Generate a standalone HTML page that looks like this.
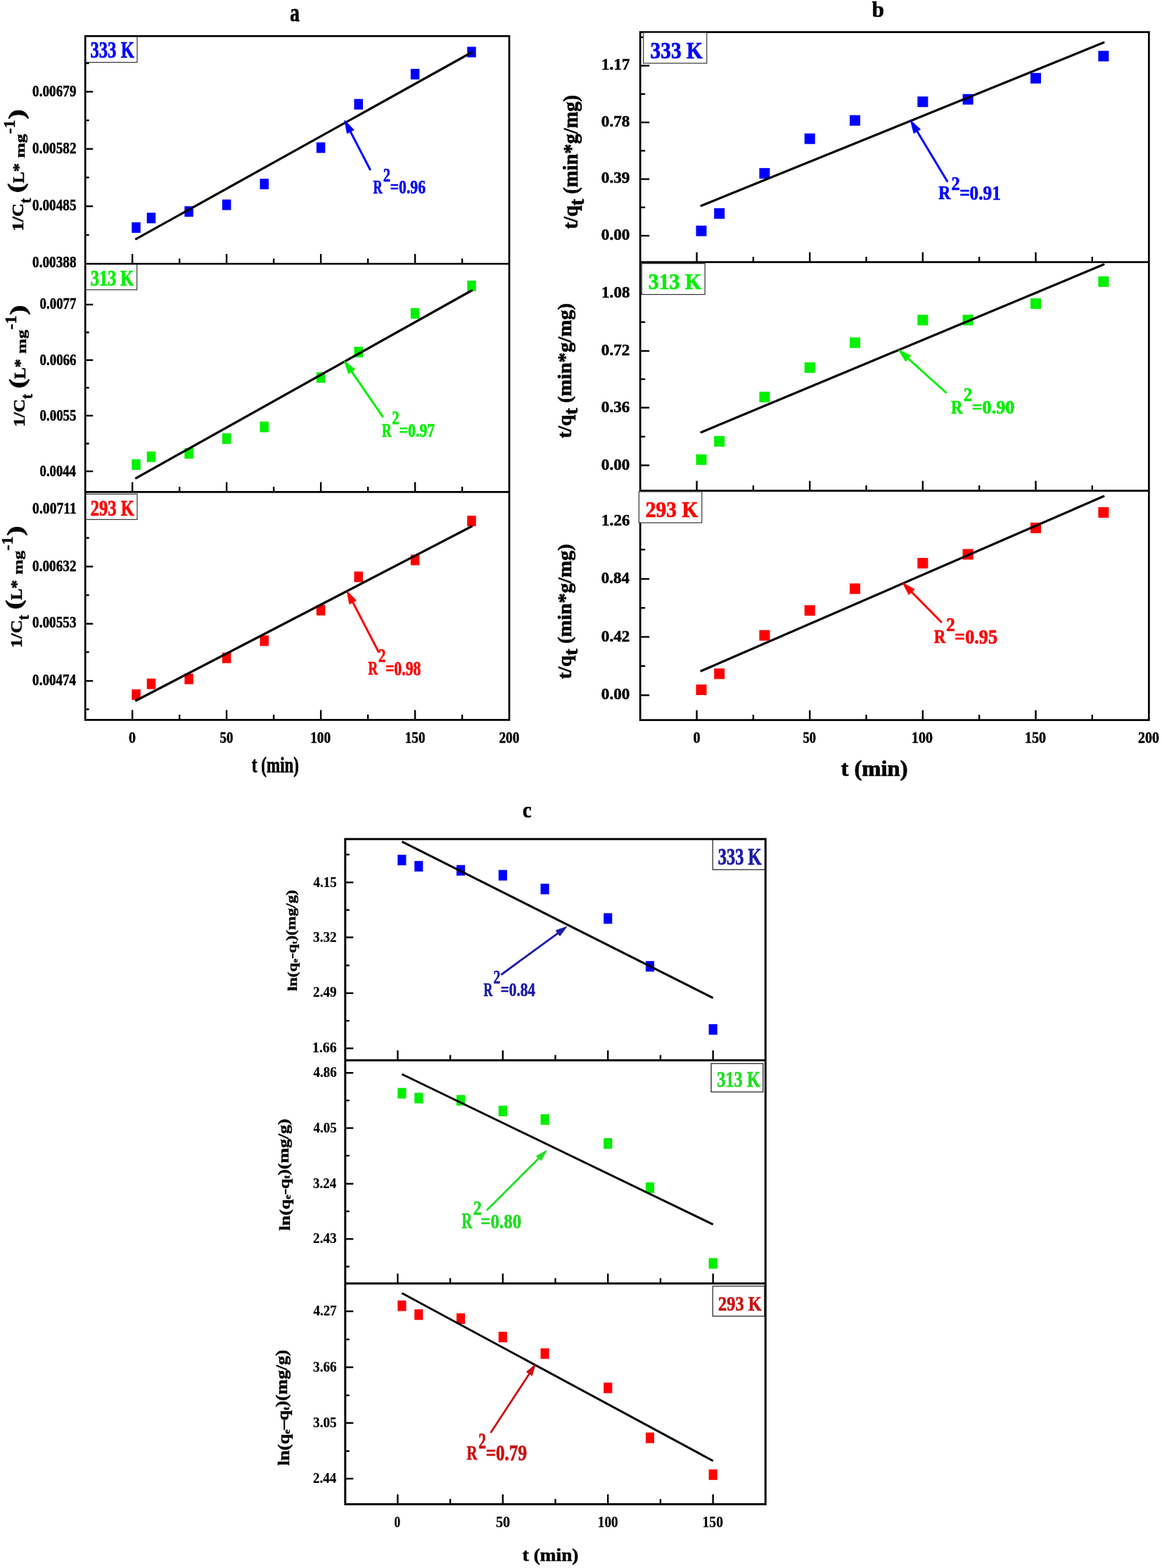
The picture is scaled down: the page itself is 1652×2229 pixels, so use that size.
<!DOCTYPE html><html><head><meta charset="utf-8"><title>Kinetic model plots</title><style>html,body{margin:0;padding:0;background:#fff;overflow:hidden}svg{display:block}</style></head><body><svg width="1652" height="2229" viewBox="0 0 1652 2229"><defs><filter id="soft" x="0" y="0" width="1652" height="2229" filterUnits="userSpaceOnUse"><feGaussianBlur stdDeviation="0.5"/></filter></defs><rect width="1652" height="2229" fill="#fff"/><g><line x1="188.20" y1="375.00" x2="188.20" y2="361.00" stroke="#000" stroke-width="2.4" stroke-linecap="butt"/>
<line x1="322.16" y1="375.00" x2="322.16" y2="361.00" stroke="#000" stroke-width="2.4" stroke-linecap="butt"/>
<line x1="456.13" y1="375.00" x2="456.13" y2="361.00" stroke="#000" stroke-width="2.4" stroke-linecap="butt"/>
<line x1="590.10" y1="375.00" x2="590.10" y2="361.00" stroke="#000" stroke-width="2.4" stroke-linecap="butt"/>
<line x1="255.18" y1="375.00" x2="255.18" y2="367.50" stroke="#000" stroke-width="2.4" stroke-linecap="butt"/>
<line x1="389.15" y1="375.00" x2="389.15" y2="367.50" stroke="#000" stroke-width="2.4" stroke-linecap="butt"/>
<line x1="523.11" y1="375.00" x2="523.11" y2="367.50" stroke="#000" stroke-width="2.4" stroke-linecap="butt"/>
<line x1="657.08" y1="375.00" x2="657.08" y2="367.50" stroke="#000" stroke-width="2.4" stroke-linecap="butt"/>
<line x1="121.20" y1="130.40" x2="132.20" y2="130.40" stroke="#000" stroke-width="2.4" stroke-linecap="butt"/>
<line x1="121.20" y1="211.70" x2="132.20" y2="211.70" stroke="#000" stroke-width="2.4" stroke-linecap="butt"/>
<line x1="121.20" y1="293.20" x2="132.20" y2="293.20" stroke="#000" stroke-width="2.4" stroke-linecap="butt"/>
<line x1="121.20" y1="89.90" x2="126.70" y2="89.90" stroke="#000" stroke-width="2.4" stroke-linecap="butt"/>
<line x1="121.20" y1="171.10" x2="126.70" y2="171.10" stroke="#000" stroke-width="2.4" stroke-linecap="butt"/>
<line x1="121.20" y1="252.30" x2="126.70" y2="252.30" stroke="#000" stroke-width="2.4" stroke-linecap="butt"/>
<line x1="121.20" y1="334.00" x2="126.70" y2="334.00" stroke="#000" stroke-width="2.4" stroke-linecap="butt"/>
<rect x="187.31" y="316.00" width="12.50" height="15.00" fill="#0000ff"/>
<rect x="208.74" y="302.40" width="12.50" height="15.00" fill="#0000ff"/>
<rect x="262.33" y="293.20" width="12.50" height="15.00" fill="#0000ff"/>
<rect x="315.91" y="283.60" width="12.50" height="15.00" fill="#0000ff"/>
<rect x="369.50" y="254.10" width="12.50" height="15.00" fill="#0000ff"/>
<rect x="449.88" y="202.40" width="12.50" height="15.00" fill="#0000ff"/>
<rect x="503.47" y="140.70" width="12.50" height="15.00" fill="#0000ff"/>
<rect x="583.85" y="97.90" width="12.50" height="15.00" fill="#0000ff"/>
<rect x="664.22" y="66.50" width="12.50" height="15.00" fill="#0000ff"/>
<line x1="193.60" y1="339.70" x2="670.50" y2="74.50" stroke="#000" stroke-width="3.25" stroke-linecap="round"/>
<line x1="526.00" y1="240.80" x2="497.28" y2="185.26" stroke="#0000ff" stroke-width="3.0" stroke-linecap="round"/>
<polygon points="490.07,171.31 502.86,184.62 493.53,189.44" fill="#0000ff" stroke="#0000ff" stroke-width="1.2" stroke-linejoin="round"/>
<rect x="121.10" y="51.30" width="73.90" height="37.30" fill="#fff" stroke="#333" stroke-width="1.2"/>
<line x1="188.20" y1="699.40" x2="188.20" y2="685.40" stroke="#000" stroke-width="2.4" stroke-linecap="butt"/>
<line x1="322.16" y1="699.40" x2="322.16" y2="685.40" stroke="#000" stroke-width="2.4" stroke-linecap="butt"/>
<line x1="456.13" y1="699.40" x2="456.13" y2="685.40" stroke="#000" stroke-width="2.4" stroke-linecap="butt"/>
<line x1="590.10" y1="699.40" x2="590.10" y2="685.40" stroke="#000" stroke-width="2.4" stroke-linecap="butt"/>
<line x1="255.18" y1="699.40" x2="255.18" y2="691.90" stroke="#000" stroke-width="2.4" stroke-linecap="butt"/>
<line x1="389.15" y1="699.40" x2="389.15" y2="691.90" stroke="#000" stroke-width="2.4" stroke-linecap="butt"/>
<line x1="523.11" y1="699.40" x2="523.11" y2="691.90" stroke="#000" stroke-width="2.4" stroke-linecap="butt"/>
<line x1="657.08" y1="699.40" x2="657.08" y2="691.90" stroke="#000" stroke-width="2.4" stroke-linecap="butt"/>
<line x1="121.20" y1="433.00" x2="132.20" y2="433.00" stroke="#000" stroke-width="2.4" stroke-linecap="butt"/>
<line x1="121.20" y1="511.90" x2="132.20" y2="511.90" stroke="#000" stroke-width="2.4" stroke-linecap="butt"/>
<line x1="121.20" y1="590.90" x2="132.20" y2="590.90" stroke="#000" stroke-width="2.4" stroke-linecap="butt"/>
<line x1="121.20" y1="670.00" x2="132.20" y2="670.00" stroke="#000" stroke-width="2.4" stroke-linecap="butt"/>
<line x1="121.20" y1="394.00" x2="126.70" y2="394.00" stroke="#000" stroke-width="2.4" stroke-linecap="butt"/>
<line x1="121.20" y1="472.50" x2="126.70" y2="472.50" stroke="#000" stroke-width="2.4" stroke-linecap="butt"/>
<line x1="121.20" y1="551.20" x2="126.70" y2="551.20" stroke="#000" stroke-width="2.4" stroke-linecap="butt"/>
<line x1="121.20" y1="630.60" x2="126.70" y2="630.60" stroke="#000" stroke-width="2.4" stroke-linecap="butt"/>
<rect x="187.31" y="652.90" width="12.50" height="15.00" fill="#00f000"/>
<rect x="208.74" y="641.80" width="12.50" height="15.00" fill="#00f000"/>
<rect x="262.33" y="637.00" width="12.50" height="15.00" fill="#00f000"/>
<rect x="315.91" y="616.00" width="12.50" height="15.00" fill="#00f000"/>
<rect x="369.50" y="599.40" width="12.50" height="15.00" fill="#00f000"/>
<rect x="449.88" y="529.20" width="12.50" height="15.00" fill="#00f000"/>
<rect x="503.47" y="493.00" width="12.50" height="15.00" fill="#00f000"/>
<rect x="583.85" y="438.00" width="12.50" height="15.00" fill="#00f000"/>
<rect x="664.22" y="398.90" width="12.50" height="15.00" fill="#00f000"/>
<line x1="193.60" y1="679.60" x2="670.50" y2="413.00" stroke="#000" stroke-width="3.25" stroke-linecap="round"/>
<line x1="544.00" y1="592.10" x2="498.66" y2="526.29" stroke="#00f000" stroke-width="3.0" stroke-linecap="round"/>
<polygon points="489.75,513.36 504.12,524.96 495.47,530.91" fill="#00f000" stroke="#00f000" stroke-width="1.2" stroke-linejoin="round"/>
<rect x="121.10" y="375.00" width="73.60" height="36.90" fill="#fff" stroke="#333" stroke-width="1.2"/>
<line x1="188.20" y1="1023.40" x2="188.20" y2="1009.40" stroke="#000" stroke-width="2.4" stroke-linecap="butt"/>
<line x1="322.16" y1="1023.40" x2="322.16" y2="1009.40" stroke="#000" stroke-width="2.4" stroke-linecap="butt"/>
<line x1="456.13" y1="1023.40" x2="456.13" y2="1009.40" stroke="#000" stroke-width="2.4" stroke-linecap="butt"/>
<line x1="590.10" y1="1023.40" x2="590.10" y2="1009.40" stroke="#000" stroke-width="2.4" stroke-linecap="butt"/>
<line x1="255.18" y1="1023.40" x2="255.18" y2="1015.90" stroke="#000" stroke-width="2.4" stroke-linecap="butt"/>
<line x1="389.15" y1="1023.40" x2="389.15" y2="1015.90" stroke="#000" stroke-width="2.4" stroke-linecap="butt"/>
<line x1="523.11" y1="1023.40" x2="523.11" y2="1015.90" stroke="#000" stroke-width="2.4" stroke-linecap="butt"/>
<line x1="657.08" y1="1023.40" x2="657.08" y2="1015.90" stroke="#000" stroke-width="2.4" stroke-linecap="butt"/>
<line x1="121.20" y1="724.00" x2="132.20" y2="724.00" stroke="#000" stroke-width="2.4" stroke-linecap="butt"/>
<line x1="121.20" y1="805.40" x2="132.20" y2="805.40" stroke="#000" stroke-width="2.4" stroke-linecap="butt"/>
<line x1="121.20" y1="886.70" x2="132.20" y2="886.70" stroke="#000" stroke-width="2.4" stroke-linecap="butt"/>
<line x1="121.20" y1="968.00" x2="132.20" y2="968.00" stroke="#000" stroke-width="2.4" stroke-linecap="butt"/>
<line x1="121.20" y1="764.70" x2="126.70" y2="764.70" stroke="#000" stroke-width="2.4" stroke-linecap="butt"/>
<line x1="121.20" y1="846.00" x2="126.70" y2="846.00" stroke="#000" stroke-width="2.4" stroke-linecap="butt"/>
<line x1="121.20" y1="927.00" x2="126.70" y2="927.00" stroke="#000" stroke-width="2.4" stroke-linecap="butt"/>
<line x1="121.20" y1="1008.30" x2="126.70" y2="1008.30" stroke="#000" stroke-width="2.4" stroke-linecap="butt"/>
<rect x="187.31" y="980.00" width="12.50" height="15.00" fill="#ff0000"/>
<rect x="208.74" y="964.60" width="12.50" height="15.00" fill="#ff0000"/>
<rect x="262.33" y="957.60" width="12.50" height="15.00" fill="#ff0000"/>
<rect x="315.91" y="927.70" width="12.50" height="15.00" fill="#ff0000"/>
<rect x="369.50" y="903.30" width="12.50" height="15.00" fill="#ff0000"/>
<rect x="449.88" y="859.80" width="12.50" height="15.00" fill="#ff0000"/>
<rect x="503.47" y="812.50" width="12.50" height="15.00" fill="#ff0000"/>
<rect x="583.85" y="788.50" width="12.50" height="15.00" fill="#ff0000"/>
<rect x="664.22" y="733.10" width="12.50" height="15.00" fill="#ff0000"/>
<line x1="193.60" y1="995.80" x2="670.50" y2="748.30" stroke="#000" stroke-width="3.25" stroke-linecap="round"/>
<line x1="538.00" y1="926.30" x2="500.60" y2="854.24" stroke="#ff0000" stroke-width="3.0" stroke-linecap="round"/>
<polygon points="493.37,840.31 506.18,853.60 496.86,858.44" fill="#ff0000" stroke="#ff0000" stroke-width="1.2" stroke-linejoin="round"/>
<rect x="121.10" y="702.40" width="73.90" height="36.10" fill="#fff" stroke="#333" stroke-width="1.2"/>
<rect x="910.20" y="45.60" width="723.20" height="978.00" fill="none" stroke="#000" stroke-width="2.7"/>
<line x1="910.20" y1="372.60" x2="1633.40" y2="372.60" stroke="#000" stroke-width="2.7" stroke-linecap="butt"/>
<line x1="910.20" y1="697.60" x2="1633.40" y2="697.60" stroke="#000" stroke-width="2.7" stroke-linecap="butt"/>
<line x1="990.60" y1="372.60" x2="990.60" y2="358.60" stroke="#000" stroke-width="2.4" stroke-linecap="butt"/>
<line x1="1151.24" y1="372.60" x2="1151.24" y2="358.60" stroke="#000" stroke-width="2.4" stroke-linecap="butt"/>
<line x1="1311.87" y1="372.60" x2="1311.87" y2="358.60" stroke="#000" stroke-width="2.4" stroke-linecap="butt"/>
<line x1="1472.51" y1="372.60" x2="1472.51" y2="358.60" stroke="#000" stroke-width="2.4" stroke-linecap="butt"/>
<line x1="1070.92" y1="372.60" x2="1070.92" y2="365.10" stroke="#000" stroke-width="2.4" stroke-linecap="butt"/>
<line x1="1231.55" y1="372.60" x2="1231.55" y2="365.10" stroke="#000" stroke-width="2.4" stroke-linecap="butt"/>
<line x1="1392.19" y1="372.60" x2="1392.19" y2="365.10" stroke="#000" stroke-width="2.4" stroke-linecap="butt"/>
<line x1="1552.82" y1="372.60" x2="1552.82" y2="365.10" stroke="#000" stroke-width="2.4" stroke-linecap="butt"/>
<line x1="910.20" y1="93.40" x2="923.20" y2="93.40" stroke="#000" stroke-width="2.4" stroke-linecap="butt"/>
<line x1="910.20" y1="174.00" x2="923.20" y2="174.00" stroke="#000" stroke-width="2.4" stroke-linecap="butt"/>
<line x1="910.20" y1="254.60" x2="923.20" y2="254.60" stroke="#000" stroke-width="2.4" stroke-linecap="butt"/>
<line x1="910.20" y1="335.10" x2="923.20" y2="335.10" stroke="#000" stroke-width="2.4" stroke-linecap="butt"/>
<line x1="910.20" y1="52.90" x2="917.20" y2="52.90" stroke="#000" stroke-width="2.4" stroke-linecap="butt"/>
<line x1="910.20" y1="133.70" x2="917.20" y2="133.70" stroke="#000" stroke-width="2.4" stroke-linecap="butt"/>
<line x1="910.20" y1="214.30" x2="917.20" y2="214.30" stroke="#000" stroke-width="2.4" stroke-linecap="butt"/>
<line x1="910.20" y1="294.80" x2="917.20" y2="294.80" stroke="#000" stroke-width="2.4" stroke-linecap="butt"/>
<rect x="989.53" y="320.70" width="15.00" height="15.00" fill="#0000ff"/>
<rect x="1015.23" y="296.00" width="15.00" height="15.00" fill="#0000ff"/>
<rect x="1079.48" y="238.90" width="15.00" height="15.00" fill="#0000ff"/>
<rect x="1143.74" y="189.70" width="15.00" height="15.00" fill="#0000ff"/>
<rect x="1207.99" y="163.70" width="15.00" height="15.00" fill="#0000ff"/>
<rect x="1304.37" y="137.20" width="15.00" height="15.00" fill="#0000ff"/>
<rect x="1368.62" y="133.70" width="15.00" height="15.00" fill="#0000ff"/>
<rect x="1465.01" y="103.70" width="15.00" height="15.00" fill="#0000ff"/>
<rect x="1561.39" y="72.30" width="15.00" height="15.00" fill="#0000ff"/>
<line x1="997.00" y1="292.40" x2="1568.90" y2="60.50" stroke="#000" stroke-width="3.25" stroke-linecap="round"/>
<line x1="1346.60" y1="257.60" x2="1302.72" y2="184.83" stroke="#0000ff" stroke-width="3.0" stroke-linecap="round"/>
<polygon points="1294.61,171.39 1308.25,183.83 1299.26,189.25" fill="#0000ff" stroke="#0000ff" stroke-width="1.2" stroke-linejoin="round"/>
<rect x="914.70" y="46.30" width="90.10" height="43.60" fill="#fff" stroke="#333" stroke-width="1.2"/>
<line x1="990.60" y1="697.60" x2="990.60" y2="683.60" stroke="#000" stroke-width="2.4" stroke-linecap="butt"/>
<line x1="1151.24" y1="697.60" x2="1151.24" y2="683.60" stroke="#000" stroke-width="2.4" stroke-linecap="butt"/>
<line x1="1311.87" y1="697.60" x2="1311.87" y2="683.60" stroke="#000" stroke-width="2.4" stroke-linecap="butt"/>
<line x1="1472.51" y1="697.60" x2="1472.51" y2="683.60" stroke="#000" stroke-width="2.4" stroke-linecap="butt"/>
<line x1="1070.92" y1="697.60" x2="1070.92" y2="690.10" stroke="#000" stroke-width="2.4" stroke-linecap="butt"/>
<line x1="1231.55" y1="697.60" x2="1231.55" y2="690.10" stroke="#000" stroke-width="2.4" stroke-linecap="butt"/>
<line x1="1392.19" y1="697.60" x2="1392.19" y2="690.10" stroke="#000" stroke-width="2.4" stroke-linecap="butt"/>
<line x1="1552.82" y1="697.60" x2="1552.82" y2="690.10" stroke="#000" stroke-width="2.4" stroke-linecap="butt"/>
<line x1="910.20" y1="417.30" x2="923.20" y2="417.30" stroke="#000" stroke-width="2.4" stroke-linecap="butt"/>
<line x1="910.20" y1="498.90" x2="923.20" y2="498.90" stroke="#000" stroke-width="2.4" stroke-linecap="butt"/>
<line x1="910.20" y1="579.50" x2="923.20" y2="579.50" stroke="#000" stroke-width="2.4" stroke-linecap="butt"/>
<line x1="910.20" y1="661.50" x2="923.20" y2="661.50" stroke="#000" stroke-width="2.4" stroke-linecap="butt"/>
<line x1="910.20" y1="457.90" x2="917.20" y2="457.90" stroke="#000" stroke-width="2.4" stroke-linecap="butt"/>
<line x1="910.20" y1="539.00" x2="917.20" y2="539.00" stroke="#000" stroke-width="2.4" stroke-linecap="butt"/>
<line x1="910.20" y1="620.70" x2="917.20" y2="620.70" stroke="#000" stroke-width="2.4" stroke-linecap="butt"/>
<rect x="989.53" y="645.90" width="15.00" height="15.00" fill="#00f000"/>
<rect x="1015.23" y="619.90" width="15.00" height="15.00" fill="#00f000"/>
<rect x="1079.48" y="556.80" width="15.00" height="15.00" fill="#00f000"/>
<rect x="1143.74" y="515.10" width="15.00" height="15.00" fill="#00f000"/>
<rect x="1207.99" y="479.70" width="15.00" height="15.00" fill="#00f000"/>
<rect x="1304.37" y="447.50" width="15.00" height="15.00" fill="#00f000"/>
<rect x="1368.62" y="447.50" width="15.00" height="15.00" fill="#00f000"/>
<rect x="1465.01" y="424.20" width="15.00" height="15.00" fill="#00f000"/>
<rect x="1561.39" y="392.80" width="15.00" height="15.00" fill="#00f000"/>
<line x1="997.00" y1="614.40" x2="1568.90" y2="376.10" stroke="#000" stroke-width="3.25" stroke-linecap="round"/>
<line x1="1344.80" y1="558.00" x2="1289.46" y2="508.14" stroke="#00f000" stroke-width="3.0" stroke-linecap="round"/>
<polygon points="1277.79,497.64 1294.46,505.58 1287.43,513.38" fill="#00f000" stroke="#00f000" stroke-width="1.2" stroke-linejoin="round"/>
<rect x="912.30" y="374.60" width="89.90" height="44.00" fill="#fff" stroke="#333" stroke-width="1.2"/>
<line x1="990.60" y1="1023.60" x2="990.60" y2="1009.60" stroke="#000" stroke-width="2.4" stroke-linecap="butt"/>
<line x1="1151.24" y1="1023.60" x2="1151.24" y2="1009.60" stroke="#000" stroke-width="2.4" stroke-linecap="butt"/>
<line x1="1311.87" y1="1023.60" x2="1311.87" y2="1009.60" stroke="#000" stroke-width="2.4" stroke-linecap="butt"/>
<line x1="1472.51" y1="1023.60" x2="1472.51" y2="1009.60" stroke="#000" stroke-width="2.4" stroke-linecap="butt"/>
<line x1="1070.92" y1="1023.60" x2="1070.92" y2="1016.10" stroke="#000" stroke-width="2.4" stroke-linecap="butt"/>
<line x1="1231.55" y1="1023.60" x2="1231.55" y2="1016.10" stroke="#000" stroke-width="2.4" stroke-linecap="butt"/>
<line x1="1392.19" y1="1023.60" x2="1392.19" y2="1016.10" stroke="#000" stroke-width="2.4" stroke-linecap="butt"/>
<line x1="1552.82" y1="1023.60" x2="1552.82" y2="1016.10" stroke="#000" stroke-width="2.4" stroke-linecap="butt"/>
<line x1="910.20" y1="740.00" x2="923.20" y2="740.00" stroke="#000" stroke-width="2.4" stroke-linecap="butt"/>
<line x1="910.20" y1="823.00" x2="923.20" y2="823.00" stroke="#000" stroke-width="2.4" stroke-linecap="butt"/>
<line x1="910.20" y1="905.40" x2="923.20" y2="905.40" stroke="#000" stroke-width="2.4" stroke-linecap="butt"/>
<line x1="910.20" y1="988.30" x2="923.20" y2="988.30" stroke="#000" stroke-width="2.4" stroke-linecap="butt"/>
<line x1="910.20" y1="781.30" x2="917.20" y2="781.30" stroke="#000" stroke-width="2.4" stroke-linecap="butt"/>
<line x1="910.20" y1="864.20" x2="917.20" y2="864.20" stroke="#000" stroke-width="2.4" stroke-linecap="butt"/>
<line x1="910.20" y1="946.80" x2="917.20" y2="946.80" stroke="#000" stroke-width="2.4" stroke-linecap="butt"/>
<rect x="989.53" y="973.10" width="15.00" height="15.00" fill="#ff0000"/>
<rect x="1015.23" y="950.30" width="15.00" height="15.00" fill="#ff0000"/>
<rect x="1079.48" y="895.70" width="15.00" height="15.00" fill="#ff0000"/>
<rect x="1143.74" y="860.30" width="15.00" height="15.00" fill="#ff0000"/>
<rect x="1207.99" y="829.40" width="15.00" height="15.00" fill="#ff0000"/>
<rect x="1304.37" y="793.10" width="15.00" height="15.00" fill="#ff0000"/>
<rect x="1368.62" y="780.50" width="15.00" height="15.00" fill="#ff0000"/>
<rect x="1465.01" y="742.90" width="15.00" height="15.00" fill="#ff0000"/>
<rect x="1561.39" y="721.00" width="15.00" height="15.00" fill="#ff0000"/>
<line x1="997.00" y1="953.80" x2="1568.90" y2="705.60" stroke="#000" stroke-width="3.25" stroke-linecap="round"/>
<line x1="1338.10" y1="884.30" x2="1294.57" y2="840.06" stroke="#ff0000" stroke-width="3.0" stroke-linecap="round"/>
<polygon points="1283.56,828.87 1299.72,837.80 1292.23,845.17" fill="#ff0000" stroke="#ff0000" stroke-width="1.2" stroke-linejoin="round"/>
<rect x="908.40" y="698.90" width="89.40" height="44.20" fill="#fff" stroke="#333" stroke-width="1.2"/>
<rect x="121.20" y="51.30" width="602.80" height="972.10" fill="none" stroke="#000" stroke-width="2.7"/>
<line x1="121.20" y1="375.00" x2="724.00" y2="375.00" stroke="#000" stroke-width="2.7" stroke-linecap="butt"/>
<line x1="121.20" y1="699.40" x2="724.00" y2="699.40" stroke="#000" stroke-width="2.7" stroke-linecap="butt"/>
<g font-family="'Liberation Serif', serif" font-weight="bold"><text transform="matrix(0.67895 0.00000 0.00000 0.87500 412.22105 29.80000)" font-size="40" fill="#000" stroke="#000" stroke-width="0.9" stroke-linejoin="round">a</text>
<text transform="matrix(0.45333 0.00000 0.00000 0.66538 530.40000 274.80000)" font-size="40" fill="#0000ff" stroke="#0000ff" stroke-width="0.9" stroke-linejoin="round">R</text>
<text transform="matrix(0.51667 0.00000 0.00000 0.68462 544.78333 257.50000)" font-size="40" fill="#0000ff" stroke="#0000ff" stroke-width="0.9" stroke-linejoin="round">2</text>
<text transform="matrix(0.54222 0.00000 0.00000 0.68462 554.71556 275.30000)" font-size="40" fill="#0000ff" stroke="#0000ff" stroke-width="0.9" stroke-linejoin="round">=0.96</text>
<text transform="matrix(0.61800 0.00000 0.00000 0.81923 128.38200 82.20000)" font-size="40" fill="#0000ff" stroke="#0000ff" stroke-width="0.9" stroke-linejoin="round">333 K</text>
<text transform="matrix(0.47969 0.00000 0.00000 0.57692 46.12031 137.10000)" font-size="40" fill="#000" stroke="#000" stroke-width="0.9" stroke-linejoin="round">0.00679</text>
<text transform="matrix(0.47969 0.00000 0.00000 0.57692 46.12031 218.20000)" font-size="40" fill="#000" stroke="#000" stroke-width="0.9" stroke-linejoin="round">0.00582</text>
<text transform="matrix(0.47969 0.00000 0.00000 0.57692 46.12031 298.70000)" font-size="40" fill="#000" stroke="#000" stroke-width="0.9" stroke-linejoin="round">0.00485</text>
<text transform="matrix(0.47969 0.00000 0.00000 0.57692 46.12031 380.20000)" font-size="40" fill="#000" stroke="#000" stroke-width="0.9" stroke-linejoin="round">0.00388</text>
<text transform="matrix(0.00000 -0.66111 0.57692 0.00000 33.40000 328.48333)" font-size="40" fill="#000" stroke="#000" stroke-width="0.9" stroke-linejoin="round">1/C</text>
<text transform="matrix(0.00000 -0.52857 0.55652 0.00000 43.80000 288.80000)" font-size="40" fill="#000" stroke="#000" stroke-width="0.9" stroke-linejoin="round">t</text>
<text transform="matrix(0.00000 -1.04545 0.78378 0.00000 33.14595 274.14545)" font-size="40" fill="#000" stroke="#000" stroke-width="0.9" stroke-linejoin="round">(</text>
<text transform="matrix(0.00000 -0.60889 0.56923 0.00000 33.90000 260.50000)" font-size="40" fill="#000" stroke="#000" stroke-width="0.9" stroke-linejoin="round">L*</text>
<text transform="matrix(0.00000 -0.63846 0.49355 0.00000 35.05806 224.43846)" font-size="40" fill="#000" stroke="#000" stroke-width="0.9" stroke-linejoin="round">mg</text>
<text transform="matrix(0.00000 -0.59355 0.56923 0.00000 20.90000 190.09355)" font-size="40" fill="#000" stroke="#000" stroke-width="0.9" stroke-linejoin="round">-1</text>
<text transform="matrix(0.00000 -1.06364 0.78108 0.00000 34.47027 169.46364)" font-size="40" fill="#000" stroke="#000" stroke-width="0.9" stroke-linejoin="round">)</text>
<text transform="matrix(0.47333 0.00000 0.00000 0.67692 543.00000 620.70000)" font-size="40" fill="#00f000" stroke="#00f000" stroke-width="0.9" stroke-linejoin="round">R</text>
<text transform="matrix(0.52222 0.00000 0.00000 0.69615 557.27778 602.80000)" font-size="40" fill="#00f000" stroke="#00f000" stroke-width="0.9" stroke-linejoin="round">2</text>
<text transform="matrix(0.54556 0.00000 0.00000 0.68846 567.60889 621.00000)" font-size="40" fill="#00f000" stroke="#00f000" stroke-width="0.9" stroke-linejoin="round">=0.97</text>
<text transform="matrix(0.61000 0.00000 0.00000 0.76538 128.69000 406.10000)" font-size="40" fill="#00f000" stroke="#00f000" stroke-width="0.9" stroke-linejoin="round">313 K</text>
<text transform="matrix(0.47222 0.00000 0.00000 0.57692 56.52778 439.30000)" font-size="40" fill="#000" stroke="#000" stroke-width="0.9" stroke-linejoin="round">0.0077</text>
<text transform="matrix(0.47222 0.00000 0.00000 0.57692 56.52778 518.50000)" font-size="40" fill="#000" stroke="#000" stroke-width="0.9" stroke-linejoin="round">0.0066</text>
<text transform="matrix(0.47222 0.00000 0.00000 0.57692 56.52778 597.70000)" font-size="40" fill="#000" stroke="#000" stroke-width="0.9" stroke-linejoin="round">0.0055</text>
<text transform="matrix(0.46789 0.00000 0.00000 0.57692 56.53211 677.00000)" font-size="40" fill="#000" stroke="#000" stroke-width="0.9" stroke-linejoin="round">0.0044</text>
<text transform="matrix(0.00000 -0.66111 0.57692 0.00000 35.30000 606.68333)" font-size="40" fill="#000" stroke="#000" stroke-width="0.9" stroke-linejoin="round">1/C</text>
<text transform="matrix(0.00000 -0.52857 0.55652 0.00000 45.70000 567.00000)" font-size="40" fill="#000" stroke="#000" stroke-width="0.9" stroke-linejoin="round">t</text>
<text transform="matrix(0.00000 -1.04545 0.78378 0.00000 35.04595 552.34545)" font-size="40" fill="#000" stroke="#000" stroke-width="0.9" stroke-linejoin="round">(</text>
<text transform="matrix(0.00000 -0.60889 0.56923 0.00000 35.80000 538.70000)" font-size="40" fill="#000" stroke="#000" stroke-width="0.9" stroke-linejoin="round">L*</text>
<text transform="matrix(0.00000 -0.63846 0.49355 0.00000 36.95806 502.63846)" font-size="40" fill="#000" stroke="#000" stroke-width="0.9" stroke-linejoin="round">mg</text>
<text transform="matrix(0.00000 -0.59355 0.56923 0.00000 22.80000 468.29355)" font-size="40" fill="#000" stroke="#000" stroke-width="0.9" stroke-linejoin="round">-1</text>
<text transform="matrix(0.00000 -1.06364 0.78108 0.00000 36.37027 447.66364)" font-size="40" fill="#000" stroke="#000" stroke-width="0.9" stroke-linejoin="round">)</text>
<text transform="matrix(0.48333 0.00000 0.00000 0.67692 523.30000 958.90000)" font-size="40" fill="#ff0000" stroke="#ff0000" stroke-width="0.9" stroke-linejoin="round">R</text>
<text transform="matrix(0.51667 0.00000 0.00000 0.69615 537.98333 941.00000)" font-size="40" fill="#ff0000" stroke="#ff0000" stroke-width="0.9" stroke-linejoin="round">2</text>
<text transform="matrix(0.54556 0.00000 0.00000 0.71154 547.90889 959.50000)" font-size="40" fill="#ff0000" stroke="#ff0000" stroke-width="0.9" stroke-linejoin="round">=0.98</text>
<text transform="matrix(0.61400 0.00000 0.00000 0.80385 128.78600 733.00000)" font-size="40" fill="#ff0000" stroke="#ff0000" stroke-width="0.9" stroke-linejoin="round">293 K</text>
<text transform="matrix(0.49120 0.00000 0.00000 0.57692 46.10880 730.10000)" font-size="40" fill="#000" stroke="#000" stroke-width="0.9" stroke-linejoin="round">0.00711</text>
<text transform="matrix(0.47969 0.00000 0.00000 0.57692 46.12031 811.50000)" font-size="40" fill="#000" stroke="#000" stroke-width="0.9" stroke-linejoin="round">0.00632</text>
<text transform="matrix(0.47969 0.00000 0.00000 0.57692 46.12031 892.20000)" font-size="40" fill="#000" stroke="#000" stroke-width="0.9" stroke-linejoin="round">0.00553</text>
<text transform="matrix(0.47597 0.00000 0.00000 0.57692 46.12403 973.60000)" font-size="40" fill="#000" stroke="#000" stroke-width="0.9" stroke-linejoin="round">0.00474</text>
<text transform="matrix(0.00000 -0.66111 0.57692 0.00000 30.60000 920.88333)" font-size="40" fill="#000" stroke="#000" stroke-width="0.9" stroke-linejoin="round">1/C</text>
<text transform="matrix(0.00000 -0.52857 0.55652 0.00000 41.00000 881.20000)" font-size="40" fill="#000" stroke="#000" stroke-width="0.9" stroke-linejoin="round">t</text>
<text transform="matrix(0.00000 -1.04545 0.78378 0.00000 30.34595 866.54545)" font-size="40" fill="#000" stroke="#000" stroke-width="0.9" stroke-linejoin="round">(</text>
<text transform="matrix(0.00000 -0.60889 0.56923 0.00000 31.10000 852.90000)" font-size="40" fill="#000" stroke="#000" stroke-width="0.9" stroke-linejoin="round">L*</text>
<text transform="matrix(0.00000 -0.63846 0.49355 0.00000 32.25806 816.83846)" font-size="40" fill="#000" stroke="#000" stroke-width="0.9" stroke-linejoin="round">mg</text>
<text transform="matrix(0.00000 -0.59355 0.56923 0.00000 18.10000 782.49355)" font-size="40" fill="#000" stroke="#000" stroke-width="0.9" stroke-linejoin="round">-1</text>
<text transform="matrix(0.00000 -1.06364 0.78108 0.00000 31.67027 761.86364)" font-size="40" fill="#000" stroke="#000" stroke-width="0.9" stroke-linejoin="round">)</text>
<text transform="matrix(0.50000 0.00000 0.00000 0.58077 183.00000 1055.80000)" font-size="40" fill="#000" stroke="#000" stroke-width="0.9" stroke-linejoin="round">0</text>
<text transform="matrix(0.47368 0.00000 0.00000 0.58077 312.52632 1055.80000)" font-size="40" fill="#000" stroke="#000" stroke-width="0.9" stroke-linejoin="round">50</text>
<text transform="matrix(0.48393 0.00000 0.00000 0.58077 441.14821 1055.80000)" font-size="40" fill="#000" stroke="#000" stroke-width="0.9" stroke-linejoin="round">100</text>
<text transform="matrix(0.47857 0.00000 0.00000 0.58077 575.76429 1055.80000)" font-size="40" fill="#000" stroke="#000" stroke-width="0.9" stroke-linejoin="round">150</text>
<text transform="matrix(0.48448 0.00000 0.00000 0.58077 709.41552 1055.80000)" font-size="40" fill="#000" stroke="#000" stroke-width="0.9" stroke-linejoin="round">200</text>
<text transform="matrix(0.57565 0.00000 0.00000 0.79459 357.90000 1098.24865)" font-size="40" fill="#000" stroke="#000" stroke-width="0.9" stroke-linejoin="round">t (min)</text>
<text transform="matrix(0.77143 0.00000 0.00000 0.78571 1239.80000 24.00000)" font-size="40" fill="#000" stroke="#000" stroke-width="0.9" stroke-linejoin="round">b</text>
<text transform="matrix(0.59333 0.00000 0.00000 0.68462 1334.20000 282.90000)" font-size="40" fill="#0000ff" stroke="#0000ff" stroke-width="0.9" stroke-linejoin="round">R</text>
<text transform="matrix(0.61111 0.00000 0.00000 0.70000 1352.38889 269.80000)" font-size="40" fill="#0000ff" stroke="#0000ff" stroke-width="0.9" stroke-linejoin="round">2</text>
<text transform="matrix(0.63258 0.00000 0.00000 0.71154 1364.13483 283.60000)" font-size="40" fill="#0000ff" stroke="#0000ff" stroke-width="0.9" stroke-linejoin="round">=0.91</text>
<text transform="matrix(0.73500 0.00000 0.00000 0.82692 924.56500 83.20000)" font-size="40" fill="#0000ff" stroke="#0000ff" stroke-width="0.9" stroke-linejoin="round">333 K</text>
<text transform="matrix(0.57727 0.00000 0.00000 0.56154 855.06818 99.30000)" font-size="40" fill="#000" stroke="#000" stroke-width="0.9" stroke-linejoin="round">1.17</text>
<text transform="matrix(0.58088 0.00000 0.00000 0.56154 854.81912 180.00000)" font-size="40" fill="#000" stroke="#000" stroke-width="0.9" stroke-linejoin="round">0.78</text>
<text transform="matrix(0.58088 0.00000 0.00000 0.56154 854.81912 260.40000)" font-size="40" fill="#000" stroke="#000" stroke-width="0.9" stroke-linejoin="round">0.39</text>
<text transform="matrix(0.58088 0.00000 0.00000 0.56154 854.81912 340.80000)" font-size="40" fill="#000" stroke="#000" stroke-width="0.9" stroke-linejoin="round">0.00</text>
<text transform="matrix(0.00000 -0.71203 0.72927 0.00000 820.51951 325.50000)" font-size="40" fill="#000" stroke="#000" stroke-width="0.9" stroke-linejoin="round">t/q<tspan dy="0.32em">t</tspan><tspan dy="-0.32em"> (min*g/mg)</tspan></text>
<text transform="matrix(0.57667 0.00000 0.00000 0.66538 1352.00000 587.60000)" font-size="40" fill="#00f000" stroke="#00f000" stroke-width="0.9" stroke-linejoin="round">R</text>
<text transform="matrix(0.62778 0.00000 0.00000 0.68846 1369.67222 569.60000)" font-size="40" fill="#00f000" stroke="#00f000" stroke-width="0.9" stroke-linejoin="round">2</text>
<text transform="matrix(0.65444 0.00000 0.00000 0.70385 1381.69111 588.30000)" font-size="40" fill="#00f000" stroke="#00f000" stroke-width="0.9" stroke-linejoin="round">=0.90</text>
<text transform="matrix(0.74500 0.00000 0.00000 0.80769 921.75500 411.10000)" font-size="40" fill="#00f000" stroke="#00f000" stroke-width="0.9" stroke-linejoin="round">313 K</text>
<text transform="matrix(0.57727 0.00000 0.00000 0.56154 855.06818 422.80000)" font-size="40" fill="#000" stroke="#000" stroke-width="0.9" stroke-linejoin="round">1.08</text>
<text transform="matrix(0.58088 0.00000 0.00000 0.56154 854.81912 504.90000)" font-size="40" fill="#000" stroke="#000" stroke-width="0.9" stroke-linejoin="round">0.72</text>
<text transform="matrix(0.58088 0.00000 0.00000 0.56154 854.81912 585.60000)" font-size="40" fill="#000" stroke="#000" stroke-width="0.9" stroke-linejoin="round">0.36</text>
<text transform="matrix(0.58088 0.00000 0.00000 0.56154 854.81912 667.70000)" font-size="40" fill="#000" stroke="#000" stroke-width="0.9" stroke-linejoin="round">0.00</text>
<text transform="matrix(0.00000 -0.71729 0.70732 0.00000 811.80488 623.00000)" font-size="40" fill="#000" stroke="#000" stroke-width="0.9" stroke-linejoin="round">t/q<tspan dy="0.32em">t</tspan><tspan dy="-0.32em"> (min*g/mg)</tspan></text>
<text transform="matrix(0.57667 0.00000 0.00000 0.68077 1327.70000 914.30000)" font-size="40" fill="#ff0000" stroke="#ff0000" stroke-width="0.9" stroke-linejoin="round">R</text>
<text transform="matrix(0.62778 0.00000 0.00000 0.70385 1345.37222 896.60000)" font-size="40" fill="#ff0000" stroke="#ff0000" stroke-width="0.9" stroke-linejoin="round">2</text>
<text transform="matrix(0.65444 0.00000 0.00000 0.71923 1357.29111 915.00000)" font-size="40" fill="#ff0000" stroke="#ff0000" stroke-width="0.9" stroke-linejoin="round">=0.95</text>
<text transform="matrix(0.73700 0.00000 0.00000 0.81154 917.86300 735.40000)" font-size="40" fill="#ff0000" stroke="#ff0000" stroke-width="0.9" stroke-linejoin="round">293 K</text>
<text transform="matrix(0.57727 0.00000 0.00000 0.56154 855.06818 747.30000)" font-size="40" fill="#000" stroke="#000" stroke-width="0.9" stroke-linejoin="round">1.26</text>
<text transform="matrix(0.57246 0.00000 0.00000 0.56154 854.82754 829.30000)" font-size="40" fill="#000" stroke="#000" stroke-width="0.9" stroke-linejoin="round">0.84</text>
<text transform="matrix(0.58088 0.00000 0.00000 0.56154 854.81912 911.50000)" font-size="40" fill="#000" stroke="#000" stroke-width="0.9" stroke-linejoin="round">0.42</text>
<text transform="matrix(0.58088 0.00000 0.00000 0.56154 854.81912 994.00000)" font-size="40" fill="#000" stroke="#000" stroke-width="0.9" stroke-linejoin="round">0.00</text>
<text transform="matrix(0.00000 -0.71729 0.70732 0.00000 811.80488 965.20000)" font-size="40" fill="#000" stroke="#000" stroke-width="0.9" stroke-linejoin="round">t/q<tspan dy="0.32em">t</tspan><tspan dy="-0.32em"> (min*g/mg)</tspan></text>
<text transform="matrix(0.51111 0.00000 0.00000 0.55769 985.48889 1056.40000)" font-size="40" fill="#000" stroke="#000" stroke-width="0.9" stroke-linejoin="round">0</text>
<text transform="matrix(0.46316 0.00000 0.00000 0.55769 1141.53684 1056.40000)" font-size="40" fill="#000" stroke="#000" stroke-width="0.9" stroke-linejoin="round">50</text>
<text transform="matrix(0.50000 0.00000 0.00000 0.55769 1296.00000 1056.40000)" font-size="40" fill="#000" stroke="#000" stroke-width="0.9" stroke-linejoin="round">100</text>
<text transform="matrix(0.50000 0.00000 0.00000 0.55769 1457.10000 1056.40000)" font-size="40" fill="#000" stroke="#000" stroke-width="0.9" stroke-linejoin="round">150</text>
<text transform="matrix(0.50000 0.00000 0.00000 0.55769 1618.00000 1056.40000)" font-size="40" fill="#000" stroke="#000" stroke-width="0.9" stroke-linejoin="round">200</text>
<text transform="matrix(0.81652 0.00000 0.00000 0.79730 1195.40000 1103.12432)" font-size="40" fill="#000" stroke="#000" stroke-width="0.9" stroke-linejoin="round">t (min)</text></g></g>
<g filter="url(#soft)"><line x1="565.40" y1="1507.20" x2="565.40" y2="1493.20" stroke="#000" stroke-width="2.4" stroke-linecap="butt"/>
<line x1="714.84" y1="1507.20" x2="714.84" y2="1493.20" stroke="#000" stroke-width="2.4" stroke-linecap="butt"/>
<line x1="864.27" y1="1507.20" x2="864.27" y2="1493.20" stroke="#000" stroke-width="2.4" stroke-linecap="butt"/>
<line x1="1013.70" y1="1507.20" x2="1013.70" y2="1493.20" stroke="#000" stroke-width="2.4" stroke-linecap="butt"/>
<line x1="640.12" y1="1507.20" x2="640.12" y2="1499.70" stroke="#000" stroke-width="2.4" stroke-linecap="butt"/>
<line x1="789.55" y1="1507.20" x2="789.55" y2="1499.70" stroke="#000" stroke-width="2.4" stroke-linecap="butt"/>
<line x1="938.99" y1="1507.20" x2="938.99" y2="1499.70" stroke="#000" stroke-width="2.4" stroke-linecap="butt"/>
<line x1="490.80" y1="1254.40" x2="502.30" y2="1254.40" stroke="#000" stroke-width="2.4" stroke-linecap="butt"/>
<line x1="490.80" y1="1332.50" x2="502.30" y2="1332.50" stroke="#000" stroke-width="2.4" stroke-linecap="butt"/>
<line x1="490.80" y1="1411.80" x2="502.30" y2="1411.80" stroke="#000" stroke-width="2.4" stroke-linecap="butt"/>
<line x1="490.80" y1="1490.30" x2="502.30" y2="1490.30" stroke="#000" stroke-width="2.4" stroke-linecap="butt"/>
<line x1="490.80" y1="1214.80" x2="496.80" y2="1214.80" stroke="#000" stroke-width="2.4" stroke-linecap="butt"/>
<line x1="490.80" y1="1293.60" x2="496.80" y2="1293.60" stroke="#000" stroke-width="2.4" stroke-linecap="butt"/>
<line x1="490.80" y1="1372.40" x2="496.80" y2="1372.40" stroke="#000" stroke-width="2.4" stroke-linecap="butt"/>
<line x1="490.80" y1="1451.10" x2="496.80" y2="1451.10" stroke="#000" stroke-width="2.4" stroke-linecap="butt"/>
<rect x="565.33" y="1215.10" width="12.10" height="15.00" fill="#0000ff"/>
<rect x="589.24" y="1223.90" width="12.10" height="15.00" fill="#0000ff"/>
<rect x="649.01" y="1229.70" width="12.10" height="15.00" fill="#0000ff"/>
<rect x="708.79" y="1236.70" width="12.10" height="15.00" fill="#0000ff"/>
<rect x="768.56" y="1256.30" width="12.10" height="15.00" fill="#0000ff"/>
<rect x="858.22" y="1298.20" width="12.10" height="15.00" fill="#0000ff"/>
<rect x="917.99" y="1366.20" width="12.10" height="15.00" fill="#0000ff"/>
<rect x="1007.65" y="1455.90" width="12.10" height="15.00" fill="#0000ff"/>
<line x1="571.40" y1="1196.30" x2="1013.70" y2="1418.60" stroke="#000" stroke-width="3.0" stroke-linecap="butt"/>
<line x1="713.40" y1="1385.00" x2="794.91" y2="1325.27" stroke="#1a1aa8" stroke-width="2.8" stroke-linecap="round"/>
<polygon points="805.55,1317.47 795.95,1330.09 790.63,1322.83" fill="#1a1aa8" stroke="#1a1aa8" stroke-width="1.2" stroke-linejoin="round"/>
<rect x="1013.30" y="1192.80" width="75.10" height="43.50" fill="#fff" stroke="#444" stroke-width="1.5"/>
<line x1="565.40" y1="1824.50" x2="565.40" y2="1810.50" stroke="#000" stroke-width="2.4" stroke-linecap="butt"/>
<line x1="714.84" y1="1824.50" x2="714.84" y2="1810.50" stroke="#000" stroke-width="2.4" stroke-linecap="butt"/>
<line x1="864.27" y1="1824.50" x2="864.27" y2="1810.50" stroke="#000" stroke-width="2.4" stroke-linecap="butt"/>
<line x1="1013.70" y1="1824.50" x2="1013.70" y2="1810.50" stroke="#000" stroke-width="2.4" stroke-linecap="butt"/>
<line x1="640.12" y1="1824.50" x2="640.12" y2="1817.00" stroke="#000" stroke-width="2.4" stroke-linecap="butt"/>
<line x1="789.55" y1="1824.50" x2="789.55" y2="1817.00" stroke="#000" stroke-width="2.4" stroke-linecap="butt"/>
<line x1="938.99" y1="1824.50" x2="938.99" y2="1817.00" stroke="#000" stroke-width="2.4" stroke-linecap="butt"/>
<line x1="490.80" y1="1525.20" x2="502.30" y2="1525.20" stroke="#000" stroke-width="2.4" stroke-linecap="butt"/>
<line x1="490.80" y1="1603.60" x2="502.30" y2="1603.60" stroke="#000" stroke-width="2.4" stroke-linecap="butt"/>
<line x1="490.80" y1="1682.80" x2="502.30" y2="1682.80" stroke="#000" stroke-width="2.4" stroke-linecap="butt"/>
<line x1="490.80" y1="1761.30" x2="502.30" y2="1761.30" stroke="#000" stroke-width="2.4" stroke-linecap="butt"/>
<line x1="490.80" y1="1564.40" x2="496.80" y2="1564.40" stroke="#000" stroke-width="2.4" stroke-linecap="butt"/>
<line x1="490.80" y1="1642.90" x2="496.80" y2="1642.90" stroke="#000" stroke-width="2.4" stroke-linecap="butt"/>
<line x1="490.80" y1="1722.00" x2="496.80" y2="1722.00" stroke="#000" stroke-width="2.4" stroke-linecap="butt"/>
<line x1="490.80" y1="1800.50" x2="496.80" y2="1800.50" stroke="#000" stroke-width="2.4" stroke-linecap="butt"/>
<rect x="565.33" y="1546.60" width="12.10" height="15.00" fill="#00ee00"/>
<rect x="589.24" y="1553.50" width="12.10" height="15.00" fill="#00ee00"/>
<rect x="649.01" y="1556.60" width="12.10" height="15.00" fill="#00ee00"/>
<rect x="708.79" y="1571.80" width="12.10" height="15.00" fill="#00ee00"/>
<rect x="768.56" y="1584.00" width="12.10" height="15.00" fill="#00ee00"/>
<rect x="858.22" y="1618.00" width="12.10" height="15.00" fill="#00ee00"/>
<rect x="917.99" y="1680.80" width="12.10" height="15.00" fill="#00ee00"/>
<rect x="1007.65" y="1788.50" width="12.10" height="15.00" fill="#00ee00"/>
<line x1="571.40" y1="1527.00" x2="1013.70" y2="1740.60" stroke="#000" stroke-width="3.0" stroke-linecap="butt"/>
<line x1="692.90" y1="1719.70" x2="767.60" y2="1645.00" stroke="#22dd22" stroke-width="2.8" stroke-linecap="round"/>
<polygon points="776.93,1635.67 769.37,1649.60 763.00,1643.23" fill="#22dd22" stroke="#22dd22" stroke-width="1.2" stroke-linejoin="round"/>
<rect x="1011.10" y="1511.80" width="73.70" height="40.50" fill="#fff" stroke="#444" stroke-width="1.5"/>
<line x1="565.40" y1="2138.30" x2="565.40" y2="2124.30" stroke="#000" stroke-width="2.4" stroke-linecap="butt"/>
<line x1="714.84" y1="2138.30" x2="714.84" y2="2124.30" stroke="#000" stroke-width="2.4" stroke-linecap="butt"/>
<line x1="864.27" y1="2138.30" x2="864.27" y2="2124.30" stroke="#000" stroke-width="2.4" stroke-linecap="butt"/>
<line x1="1013.70" y1="2138.30" x2="1013.70" y2="2124.30" stroke="#000" stroke-width="2.4" stroke-linecap="butt"/>
<line x1="640.12" y1="2138.30" x2="640.12" y2="2130.80" stroke="#000" stroke-width="2.4" stroke-linecap="butt"/>
<line x1="789.55" y1="2138.30" x2="789.55" y2="2130.80" stroke="#000" stroke-width="2.4" stroke-linecap="butt"/>
<line x1="938.99" y1="2138.30" x2="938.99" y2="2130.80" stroke="#000" stroke-width="2.4" stroke-linecap="butt"/>
<line x1="490.80" y1="1864.10" x2="502.30" y2="1864.10" stroke="#000" stroke-width="2.4" stroke-linecap="butt"/>
<line x1="490.80" y1="1943.60" x2="502.30" y2="1943.60" stroke="#000" stroke-width="2.4" stroke-linecap="butt"/>
<line x1="490.80" y1="2022.80" x2="502.30" y2="2022.80" stroke="#000" stroke-width="2.4" stroke-linecap="butt"/>
<line x1="490.80" y1="2102.00" x2="502.30" y2="2102.00" stroke="#000" stroke-width="2.4" stroke-linecap="butt"/>
<line x1="490.80" y1="1904.10" x2="496.80" y2="1904.10" stroke="#000" stroke-width="2.4" stroke-linecap="butt"/>
<line x1="490.80" y1="1983.60" x2="496.80" y2="1983.60" stroke="#000" stroke-width="2.4" stroke-linecap="butt"/>
<line x1="490.80" y1="2062.80" x2="496.80" y2="2062.80" stroke="#000" stroke-width="2.4" stroke-linecap="butt"/>
<rect x="565.33" y="1848.70" width="12.10" height="15.00" fill="#ff0000"/>
<rect x="589.24" y="1861.30" width="12.10" height="15.00" fill="#ff0000"/>
<rect x="649.01" y="1867.00" width="12.10" height="15.00" fill="#ff0000"/>
<rect x="708.79" y="1893.20" width="12.10" height="15.00" fill="#ff0000"/>
<rect x="768.56" y="1916.70" width="12.10" height="15.00" fill="#ff0000"/>
<rect x="858.22" y="1965.50" width="12.10" height="15.00" fill="#ff0000"/>
<rect x="917.99" y="2036.50" width="12.10" height="15.00" fill="#ff0000"/>
<rect x="1007.65" y="2088.80" width="12.10" height="15.00" fill="#ff0000"/>
<line x1="571.40" y1="1838.30" x2="1013.70" y2="2076.70" stroke="#000" stroke-width="3.0" stroke-linecap="butt"/>
<line x1="698.20" y1="2035.80" x2="753.72" y2="1951.11" stroke="#cc1111" stroke-width="2.8" stroke-linecap="round"/>
<polygon points="760.96,1940.07 756.39,1955.25 748.86,1950.31" fill="#cc1111" stroke="#cc1111" stroke-width="1.2" stroke-linejoin="round"/>
<rect x="1013.30" y="1828.30" width="73.70" height="42.70" fill="#fff" stroke="#444" stroke-width="1.5"/>
<rect x="490.80" y="1192.80" width="597.50" height="945.50" fill="none" stroke="#000" stroke-width="3.0"/>
<line x1="490.80" y1="1507.20" x2="1088.30" y2="1507.20" stroke="#000" stroke-width="3.0" stroke-linecap="butt"/>
<line x1="490.80" y1="1824.50" x2="1088.30" y2="1824.50" stroke="#000" stroke-width="3.0" stroke-linecap="butt"/>
<g font-family="'Liberation Serif', serif" font-weight="bold"><text transform="matrix(0.70625 0.00000 0.00000 0.81500 742.89375 1162.30000)" font-size="40" fill="#000" stroke="#000" stroke-width="0.9" stroke-linejoin="round">c</text>
<text transform="matrix(0.44333 0.00000 0.00000 0.66154 687.40000 1415.60000)" font-size="40" fill="#1a1aa8" stroke="#1a1aa8" stroke-width="0.9" stroke-linejoin="round">R</text>
<text transform="matrix(0.49444 0.00000 0.00000 0.66154 701.60556 1397.60000)" font-size="40" fill="#1a1aa8" stroke="#1a1aa8" stroke-width="0.9" stroke-linejoin="round">2</text>
<text transform="matrix(0.53222 0.00000 0.00000 0.66154 711.63556 1415.60000)" font-size="40" fill="#1a1aa8" stroke="#1a1aa8" stroke-width="0.9" stroke-linejoin="round">=0.84</text>
<text transform="matrix(0.61300 0.00000 0.00000 0.83462 1020.68700 1229.30000)" font-size="40" fill="#1a1aa8" stroke="#1a1aa8" stroke-width="0.9" stroke-linejoin="round">333 K</text>
<text transform="matrix(0.47391 0.00000 0.00000 0.53846 445.50000 1261.00000)" font-size="40" fill="#000" stroke="#000" stroke-width="0.4" stroke-linejoin="round">4.15</text>
<text transform="matrix(0.48088 0.00000 0.00000 0.53846 445.01912 1339.10000)" font-size="40" fill="#000" stroke="#000" stroke-width="0.4" stroke-linejoin="round">3.32</text>
<text transform="matrix(0.48088 0.00000 0.00000 0.53846 445.01912 1416.90000)" font-size="40" fill="#000" stroke="#000" stroke-width="0.4" stroke-linejoin="round">2.49</text>
<text transform="matrix(0.49545 0.00000 0.00000 0.53846 444.01364 1495.80000)" font-size="40" fill="#000" stroke="#000" stroke-width="0.4" stroke-linejoin="round">1.66</text>
<text transform="matrix(0.00000 -0.58490 0.48537 0.00000 421.83171 1408.70000)" font-size="40" fill="#000" stroke="#000" stroke-width="0.9" stroke-linejoin="round">ln(q<tspan font-size="55%" dy="0.12em">e</tspan><tspan dy="-0.12em">-q</tspan><tspan font-size="55%" dy="0.12em">t</tspan><tspan dy="-0.12em">)(mg/g)</tspan></text>
<text transform="matrix(0.51333 0.00000 0.00000 0.76923 656.40000 1745.70000)" font-size="40" fill="#22dd22" stroke="#22dd22" stroke-width="0.9" stroke-linejoin="round">R</text>
<text transform="matrix(0.60556 0.00000 0.00000 0.71923 672.69444 1727.20000)" font-size="40" fill="#22dd22" stroke="#22dd22" stroke-width="0.9" stroke-linejoin="round">2</text>
<text transform="matrix(0.62556 0.00000 0.00000 0.75769 683.24889 1745.70000)" font-size="40" fill="#22dd22" stroke="#22dd22" stroke-width="0.9" stroke-linejoin="round">=0.80</text>
<text transform="matrix(0.61000 0.00000 0.00000 0.78846 1019.19000 1544.50000)" font-size="40" fill="#22dd22" stroke="#22dd22" stroke-width="0.9" stroke-linejoin="round">313 K</text>
<text transform="matrix(0.47391 0.00000 0.00000 0.53846 445.50000 1531.00000)" font-size="40" fill="#000" stroke="#000" stroke-width="0.4" stroke-linejoin="round">4.86</text>
<text transform="matrix(0.47391 0.00000 0.00000 0.53846 445.50000 1610.30000)" font-size="40" fill="#000" stroke="#000" stroke-width="0.4" stroke-linejoin="round">4.05</text>
<text transform="matrix(0.47391 0.00000 0.00000 0.53846 445.02609 1688.70000)" font-size="40" fill="#000" stroke="#000" stroke-width="0.4" stroke-linejoin="round">3.24</text>
<text transform="matrix(0.48088 0.00000 0.00000 0.53846 445.01912 1767.20000)" font-size="40" fill="#000" stroke="#000" stroke-width="0.4" stroke-linejoin="round">2.43</text>
<text transform="matrix(0.00000 -0.64653 0.54146 0.00000 411.92683 1749.40000)" font-size="40" fill="#000" stroke="#000" stroke-width="0.9" stroke-linejoin="round">ln(q<tspan font-size="55%" dy="0.12em">e</tspan><tspan dy="-0.12em">-q</tspan><tspan font-size="55%" dy="0.12em">t</tspan><tspan dy="-0.12em">)(mg/g)</tspan></text>
<text transform="matrix(0.52333 0.00000 0.00000 0.75769 663.50000 2075.30000)" font-size="40" fill="#cc1111" stroke="#cc1111" stroke-width="0.9" stroke-linejoin="round">R</text>
<text transform="matrix(0.53889 0.00000 0.00000 0.78077 680.16111 2058.60000)" font-size="40" fill="#cc1111" stroke="#cc1111" stroke-width="0.9" stroke-linejoin="round">2</text>
<text transform="matrix(0.62889 0.00000 0.00000 0.78077 690.64222 2075.60000)" font-size="40" fill="#cc1111" stroke="#cc1111" stroke-width="0.9" stroke-linejoin="round">=0.79</text>
<text transform="matrix(0.61000 0.00000 0.00000 0.73846 1020.99000 1863.20000)" font-size="40" fill="#cc1111" stroke="#cc1111" stroke-width="0.9" stroke-linejoin="round">293 K</text>
<text transform="matrix(0.47391 0.00000 0.00000 0.53846 445.50000 1869.90000)" font-size="40" fill="#000" stroke="#000" stroke-width="0.4" stroke-linejoin="round">4.27</text>
<text transform="matrix(0.48088 0.00000 0.00000 0.53846 445.01912 1949.90000)" font-size="40" fill="#000" stroke="#000" stroke-width="0.4" stroke-linejoin="round">3.66</text>
<text transform="matrix(0.48088 0.00000 0.00000 0.53846 445.01912 2028.70000)" font-size="40" fill="#000" stroke="#000" stroke-width="0.4" stroke-linejoin="round">3.05</text>
<text transform="matrix(0.47391 0.00000 0.00000 0.53846 445.02609 2107.90000)" font-size="40" fill="#000" stroke="#000" stroke-width="0.4" stroke-linejoin="round">2.44</text>
<text transform="matrix(0.00000 -0.65179 0.57805 0.00000 410.89756 2083.50000)" font-size="40" fill="#000" stroke="#000" stroke-width="0.9" stroke-linejoin="round">ln(q<tspan font-size="55%" dy="0.12em">e</tspan><tspan dy="-0.12em">–q</tspan><tspan font-size="55%" dy="0.12em">t</tspan><tspan dy="-0.12em">)(mg/g)</tspan></text>
<text transform="matrix(0.43333 0.00000 0.00000 0.55385 560.56667 2170.90000)" font-size="40" fill="#000" stroke="#000" stroke-width="0.4" stroke-linejoin="round">0</text>
<text transform="matrix(0.50789 0.00000 0.00000 0.55385 704.89211 2170.90000)" font-size="40" fill="#000" stroke="#000" stroke-width="0.4" stroke-linejoin="round">50</text>
<text transform="matrix(0.48393 0.00000 0.00000 0.55385 849.74821 2170.90000)" font-size="40" fill="#000" stroke="#000" stroke-width="0.4" stroke-linejoin="round">100</text>
<text transform="matrix(0.49107 0.00000 0.00000 0.55385 998.52679 2170.90000)" font-size="40" fill="#000" stroke="#000" stroke-width="0.4" stroke-linejoin="round">150</text>
<text transform="matrix(0.68435 0.00000 0.00000 0.64054 742.70000 2219.13514)" font-size="40" fill="#000" stroke="#000" stroke-width="0.9" stroke-linejoin="round">t (min)</text></g></g></svg></body></html>
